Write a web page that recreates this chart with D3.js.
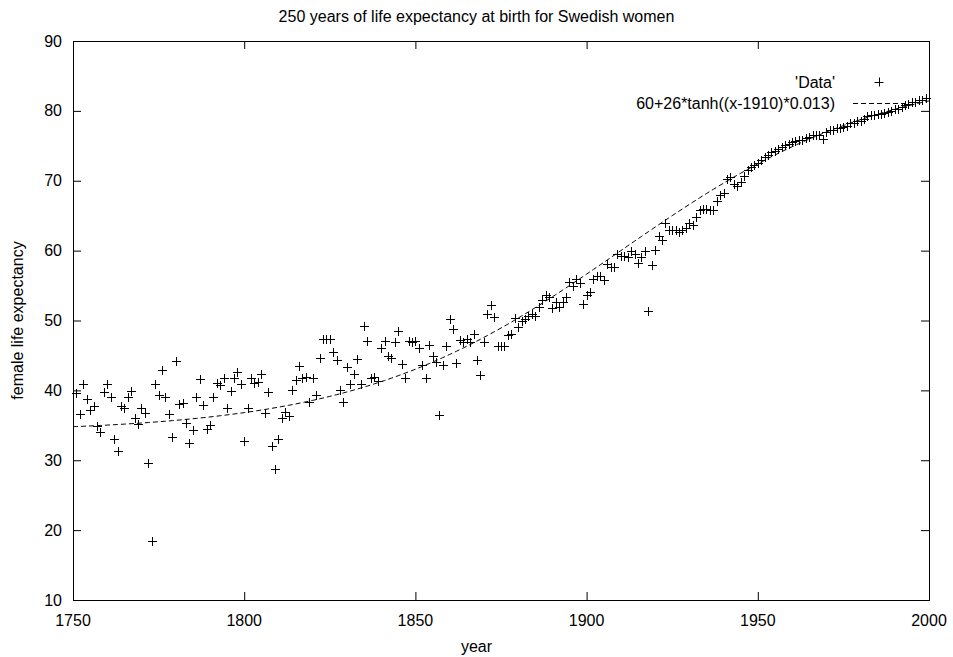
<!DOCTYPE html>
<html><head><meta charset="utf-8">
<script src="https://cdn.jsdelivr.net/npm/d3@7/dist/d3.min.js"></script>
<style>
body{margin:0;background:#fff}
text{font-family:"Liberation Sans",Arial,Helvetica,sans-serif;fill:#000;font-size:16px}
</style>
</head><body>
<svg id="chart" width="953" height="657"></svg>
<script>
// ---- data ----
const chartTitle = "250 years of life expectancy at birth for Swedish women";
const xAxisLabel = "year";
const yAxisLabel = "female life expectancy";
const xTickValues = [1750, 1800, 1850, 1900, 1950, 2000];
const yTickValues = [10, 20, 30, 40, 50, 60, 70, 80, 90];
const xDomain = [1750, 2000];
const yDomain = [10, 90];

const firstYear = 1751;
const lifeExp1751 = [39.6,36.6,40.9,38.7,37.2,37.7,34.9,34.0,39.7,40.9,
  39.0,33.0,31.3,37.7,37.5,39.1,39.9,36.1,35.2,37.5,
  36.7,29.6,18.4,40.9,39.3,42.9,39.0,36.6,33.3,44.2,
  38.1,38.2,35.4,32.5,34.4,39.1,41.6,37.9,34.5,35.1,
  39.1,41.0,40.7,41.7,37.5,39.9,41.7,42.7,40.9,32.7];
const lifeExp1801 = [37.5,41.7,41.0,41.2,42.3,36.8,39.7,32.1,28.7,33.1,
  36.1,36.9,36.3,40.1,41.5,43.5,41.8,41.9,38.3,41.7,
  39.3,44.7,47.3,47.3,47.4,45.5,44.4,40.0,38.4,43.3,
  40.9,42.3,44.5,40.9,49.2,47.1,41.7,41.9,41.4,46.0,
  47.1,44.9,44.7,46.9,48.5,43.8,41.7,47.1,46.9,47.1];
const lifeExp1851 = [46.0,43.6,41.8,46.5,44.9,44.0,36.5,43.6,46.3,50.2,
  48.8,43.9,47.2,46.9,47.4,46.9,48.1,44.4,42.2,46.9,
  51.0,52.2,50.5,46.3,46.4,46.4,47.9,48.1,50.4,49.1,
  50.0,50.2,50.7,51.0,50.7,52.0,52.9,53.6,53.3,51.8,
  52.6,51.9,52.6,53.3,55.5,54.9,56.0,55.4,52.3,53.7];
const lifeExp1901 = [54.1,56.0,56.4,56.4,55.8,58.1,57.7,57.6,59.5,59.3,
  59.3,59.1,59.9,59.5,58.3,59.1,60.0,51.3,57.9,60.1,
  62.1,61.5,63.9,63.0,63.0,63.0,62.6,63.0,63.2,63.9,
  63.7,64.8,65.8,65.9,65.9,65.8,65.8,67.1,67.9,68.3,
  70.3,70.6,69.5,69.3,69.8,70.7,71.5,72.0,72.3,72.6];
const lifeExp1951 = [73.0,73.4,73.7,74.1,74.3,74.6,74.8,75.1,75.3,75.5,
  75.7,75.8,75.9,76.1,76.3,76.5,76.6,76.5,76.0,77.0,
  77.2,77.3,77.5,77.6,77.7,77.8,78.2,78.3,78.5,78.6,
  78.9,79.2,79.4,79.4,79.5,79.6,79.7,79.8,80.0,80.2,
  80.3,80.6,80.8,81.0,81.2,81.3,81.5,81.6,81.8];

// fit function shown in the legend: 60+26*tanh((x-1910)*0.013)
const fitA = 60, fitB = 26, fitX0 = 1910, fitK = 0.013;
const legendLabels = ["'Data'", "60+26*tanh((x-1910)*0.013)"];

// ---- build ----
const lifeExp = [].concat(lifeExp1751, lifeExp1801, lifeExp1851, lifeExp1901, lifeExp1951);
const points = lifeExp.map((v, i) => ({year: firstYear + i, value: v}));
const fitYears = d3.range(xDomain[0], xDomain[1] + 0.5, 1);
const fitPoints = fitYears.map(x => ({year: x, value: fitA + fitB * Math.tanh((x - fitX0) * fitK)}));

const W = 953, H = 657;
const m = {left: 73, right: 929, top: 41, bottom: 600};
const svg = d3.select("#chart");

const x = d3.scaleLinear().domain(xDomain).range([m.left, m.right]);
const y = d3.scaleLinear().domain(yDomain).range([m.bottom, m.top]);

const tickLen = 8;
// axes (ticks inward, mirrored)
const gBottom = svg.append("g").attr("transform", `translate(0,${m.bottom})`)
  .call(d3.axisTop(x).tickValues(xTickValues).tickSize(tickLen).tickFormat(""));
const gTop = svg.append("g").attr("transform", `translate(0,${m.top})`)
  .call(d3.axisBottom(x).tickValues(xTickValues).tickSize(tickLen).tickFormat(""));
const gLeft = svg.append("g").attr("transform", `translate(${m.left},0)`)
  .call(d3.axisRight(y).tickValues(yTickValues).tickSize(tickLen).tickFormat(""));
const gRight = svg.append("g").attr("transform", `translate(${m.right},0)`)
  .call(d3.axisLeft(y).tickValues(yTickValues).tickSize(tickLen).tickFormat(""));
[gBottom, gTop, gLeft, gRight].forEach(g => {
  g.select(".domain").remove();
  g.selectAll("line").attr("stroke", "#000").attr("stroke-width", 1);
});

// tick labels
svg.append("g").selectAll("text").data(xTickValues).join("text")
  .attr("x", d => x(d)).attr("y", m.bottom + 26)
  .attr("text-anchor", "middle").text(d => d);
svg.append("g").selectAll("text").data(yTickValues).join("text")
  .attr("x", m.left - 11).attr("y", d => y(d)).attr("dy", "0.35em")
  .attr("text-anchor", "end").text(d => d);

// border
svg.append("rect").attr("x", m.left + 0.5).attr("y", m.top + 0.5)
  .attr("width", m.right - m.left).attr("height", m.bottom - m.top)
  .attr("fill", "none").attr("stroke", "#000").attr("stroke-width", 1);

// fit line
const line = d3.line().x(d => x(d.year)).y(d => y(d.value));
svg.append("path").datum(fitPoints).attr("d", line)
  .attr("fill", "none").attr("stroke", "#000").attr("stroke-width", 1)
  .attr("stroke-dasharray", "5,3");

// data points "+"
const ps = 4.5;
svg.append("g").selectAll("path").data(points).join("path")
  .attr("d", d => {
    const cx = Math.round(x(d.year)) + 0.5, cy = Math.round(y(d.value)) + 0.5;
    return `M${cx - ps},${cy}H${cx + ps}M${cx},${cy - ps}V${cy + ps}`;
  })
  .attr("stroke", "#000").attr("stroke-width", 1).attr("fill", "none");

// legend
const legTextX = 835, legRow = [82, 103];
svg.append("g").selectAll("text").data(legendLabels).join("text")
  .attr("x", legTextX).attr("y", (d, i) => legRow[i]).attr("dy", "0.35em")
  .attr("text-anchor", "end").text(d => d);
svg.append("path")
  .attr("d", `M${879 - ps},${legRow[0] + 0.5}H${879 + ps}M${879.5},${legRow[0] - ps}V${legRow[0] + ps}`)
  .attr("stroke", "#000").attr("stroke-width", 1);
svg.append("line").attr("x1", 853).attr("x2", 905)
  .attr("y1", legRow[1] + 0.5).attr("y2", legRow[1] + 0.5)
  .attr("stroke", "#000").attr("stroke-width", 1).attr("stroke-dasharray", "5,3");

// titles
svg.append("text").attr("x", W / 2).attr("y", 22).attr("text-anchor", "middle").text(chartTitle);
svg.append("text").attr("x", W / 2).attr("y", 652).attr("text-anchor", "middle").text(xAxisLabel);
svg.append("text").attr("transform", `translate(23,${(m.top + m.bottom) / 2}) rotate(-90)`)
  .attr("text-anchor", "middle").text(yAxisLabel);
</script>
</body></html>
